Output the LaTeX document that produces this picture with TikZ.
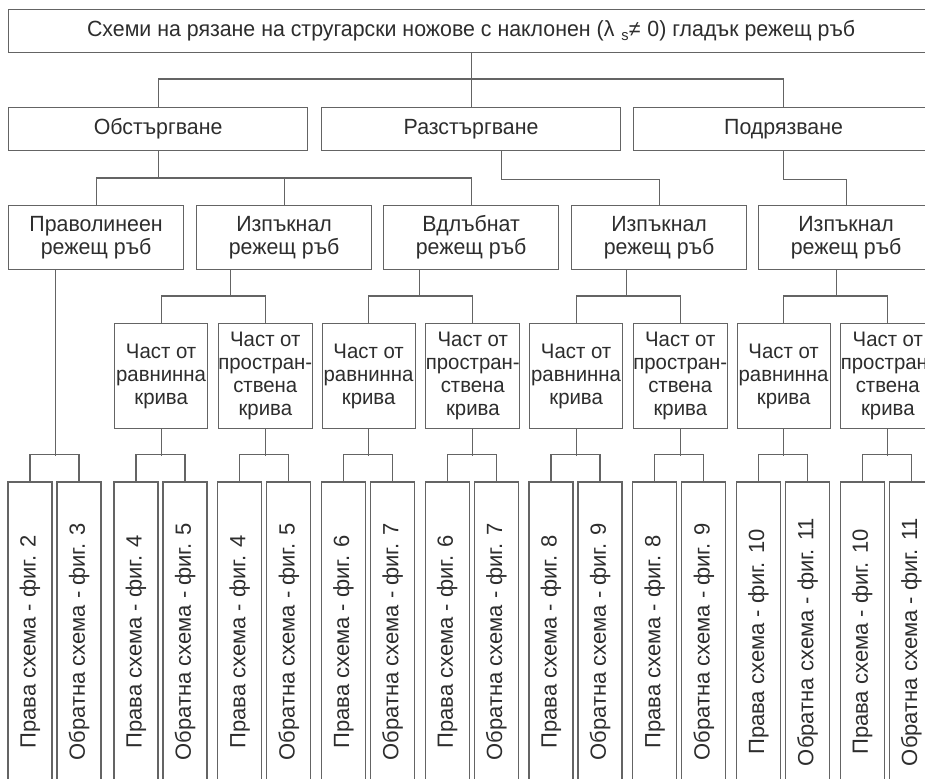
\documentclass[tikz,border=0pt]{standalone}
\usepackage{fontspec}
\setmainfont{Liberation Sans}
\newfontfamily\narrowf[FakeStretch=0.97]{Liberation Sans}
\definecolor{ln}{RGB}{100,100,100}
\definecolor{tx}{RGB}{45,45,45}
\begin{document}
\begin{tikzpicture}[x=1pt,y=-1pt,
  box/.style={draw=ln, line width=1.2pt, fill=white, rectangle, inner sep=0pt,
    anchor=north west, text=tx, align=center, font=\narrowf\fontsize{22}{23}\selectfont},
  wbox/.style={box, minimum width=299pt, minimum height=43pt},
  mbox/.style={box, minimum width=175pt, minimum height=64pt},
  sbox/.style={box, minimum width=93pt, minimum height=105pt, font=\narrowf\fontsize{21}{23}\selectfont},
  vbox/.style={draw=ln, line width=1.2pt, fill=white, rectangle, inner sep=0pt,
    rotate=90, anchor=center, minimum width=320pt, minimum height=44pt, text=tx,
    font=\fontsize{22}{23}\selectfont},
  conn/.style={draw=ln, line width=1.2pt}
]
\useasboundingbox (0,0) rectangle (925,778);
\fill[white] (0,0) rectangle (925,778);
\clip (0,0) rectangle (925,778);

% level 1
\node[box, minimum width=925pt, minimum height=43pt] (title) at (8,9)
  {Схеми на рязане на стругарски ножове с наклонен (λ\hspace{7pt}\raisebox{-4pt}{\fontsize{15}{15}\selectfont s}≠\hspace{7pt}0) гладък режещ ръб};

% level 2
\node[wbox] (obs) at (8,107) {Обстъргване};
\node[wbox] (raz) at (321,107) {Разстъргване};
\node[wbox, minimum width=300pt] (pod) at (633,107) {Подрязване};

% level 3
\node[mbox] (prav) at (8,205) {Праволинеен\\режещ ръб};
\node[mbox] (izpa) at (196,205) {Изпъкнал\\режещ ръб};
\node[mbox] (vdl) at (383,205) {Вдлъбнат\\режещ ръб};
\node[mbox] (izpb) at (571,205) {Изпъкнал\\режещ ръб};
\node[mbox] (izpc) at (758,205) {Изпъкнал\\режещ ръб};

% level 4
\node[sbox] (ca) at (114,323) {Част от\\равнинна\\крива};
\node[sbox] (cb) at (217.75,323) {Част от\\простран-\\ствена\\крива};
\node[sbox] (cc) at (321.5,323) {Част от\\равнинна\\крива};
\node[sbox] (cd) at (425.25,323) {Част от\\простран-\\ствена\\крива};
\node[sbox] (ce) at (529,323) {Част от\\равнинна\\крива};
\node[sbox] (cf) at (632.75,323) {Част от\\простран-\\ствена\\крива};
\node[sbox] (cg) at (736.5,323) {Част от\\равнинна\\крива};
\node[sbox] (ch) at (840.25,323) {Част от\\простран-\\ствена\\крива};

% level 5
\node[vbox] (r0a) at (30,642) {Права схема - фиг. 2};
\node[vbox] (r0b) at (79,642) {Обратна схема - фиг. 3};
\node[vbox] (raa) at (136,642) {Права схема - фиг. 4};
\node[vbox] (rab) at (185,642) {Обратна схема - фиг. 5};
\node[vbox] (rba) at (239.75,642) {Права схема - фиг. 4};
\node[vbox] (rbb) at (288.75,642) {Обратна схема - фиг. 5};
\node[vbox] (rca) at (343.5,642) {Права схема - фиг. 6};
\node[vbox] (rcb) at (392.5,642) {Обратна схема - фиг. 7};
\node[vbox] (rda) at (447.25,642) {Права схема - фиг. 6};
\node[vbox] (rdb) at (496.25,642) {Обратна схема - фиг. 7};
\node[vbox] (rea) at (551,642) {Права схема - фиг. 8};
\node[vbox] (reb) at (600,642) {Обратна схема - фиг. 9};
\node[vbox] (rfa) at (654.75,642) {Права схема - фиг. 8};
\node[vbox] (rfb) at (703.75,642) {Обратна схема - фиг. 9};
\node[vbox] (rga) at (758.5,642) {Права схема - фиг. 10};
\node[vbox] (rgb) at (807.5,642) {Обратна схема - фиг. 11};
\node[vbox] (rha) at (862.25,642) {Права схема - фиг. 10};
\node[vbox] (rhb) at (911.25,642) {Обратна схема - фиг. 11};

% connectors level 1 -> 2
\draw[conn] (title.south) -- (raz.north);
\draw[conn] (obs.north) -- ++(0,-28) -| (pod.north);

% level 2 -> 3
\draw[conn] (obs.south) -- ++(0,28);
\draw[conn] (prav.north) -- ++(0,-27) -| (vdl.north);
\draw[conn] (izpa.north) -- ++(0,-27);
\draw[conn] ([xshift=30.5pt]raz.south) -- ++(0,28) -| (izpb.north);
\draw[conn] (pod.south) -- ++(0,28) -| (izpc.north);

% level 3 -> 4
\draw[conn] ([xshift=-53.5pt]izpa.south) -- ++(0,27);
\draw[conn] (ca.north) -- ++(0,-27) -| (cb.north);
\draw[conn] ([xshift=-51.5pt]vdl.south) -- ++(0,27);
\draw[conn] (cc.north) -- ++(0,-27) -| (cd.north);
\draw[conn] ([xshift=-32.5pt]izpb.south) -- ++(0,27);
\draw[conn] (ce.north) -- ++(0,-27) -| (cf.north);
\draw[conn] ([xshift=-9.5pt]izpc.south) -- ++(0,27);
\draw[conn] (cg.north) -- ++(0,-27) -| (ch.north);

% level 3/4 -> 5
\draw[conn] ([xshift=-40.5pt]prav.south) -- ++(0,186);
\draw[conn] (r0a.east) -- ++(0,-27) -| (r0b.east);
\foreach \p/\a/\b in {ca/raa/rab, cb/rba/rbb, cc/rca/rcb, cd/rda/rdb, ce/rea/reb, cf/rfa/rfb, cg/rga/rgb, ch/rha/rhb}{
  \draw[conn] (\p.south) -- ++(0,27);
  \draw[conn] (\a.east) -- ++(0,-27) -| (\b.east);
}
\end{tikzpicture}
\end{document}
